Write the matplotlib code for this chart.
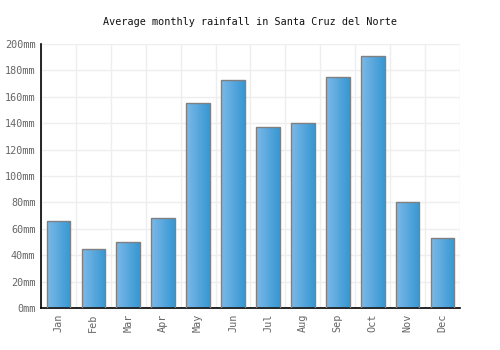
#!/usr/bin/env python3
"""Average monthly rainfall bar chart with gradient-filled bars."""

import matplotlib

matplotlib.use("Agg")
import matplotlib.pyplot as plt
import numpy as np
from matplotlib.colors import LinearSegmentedColormap

months = ["Jan", "Feb", "Mar", "Apr", "May", "Jun",
          "Jul", "Aug", "Sep", "Oct", "Nov", "Dec"]
rainfall = [66, 45, 50, 68, 155, 173, 137, 140, 175, 191, 80, 53]
y_ticks = [0, 20, 40, 60, 80, 100, 120, 140, 160, 180, 200]
y_labels = [f"{v}mm" for v in y_ticks]

plt.rcParams.update({"font.family": "DejaVu Sans Mono", "font.size": 7.3})

fig = plt.figure(figsize=(5.0, 3.5), dpi=100)
ax = fig.add_axes([0.082, 0.12, 0.838, 0.754])

x = np.arange(len(months))
bars = ax.bar(x, rainfall, width=0.68, facecolor="none",
              edgecolor="#808080", linewidth=1.0, zorder=3)

cmap = LinearSegmentedColormap.from_list("bar", ["#7bb9ea", "#3797d2"])
grad = np.linspace(0, 1, 64).reshape(1, -1)
for b in bars:
    x0, w, h = b.get_x(), b.get_width(), b.get_height()
    im = ax.imshow(grad, cmap=cmap, aspect="auto", extent=[x0, x0 + w, 0, h],
                   zorder=2, interpolation="bilinear")
    im.set_clip_path(b)

ax.set_xlim(-0.5, len(months) - 0.5)
ax.set_ylim(0, 200)
ax.set_xticks(x)
ax.set_xticklabels(months, rotation=90, color="#666666")
ax.set_yticks(y_ticks)
ax.set_yticklabels(y_labels, color="#666666")
ax.set_xticks(np.arange(len(months) + 1) - 0.5, minor=True)
ax.tick_params(axis="both", which="both", length=0, pad=4)
ax.grid(True, which="minor", axis="x", color="#eeeeee", linewidth=1.0, zorder=0)
ax.grid(True, which="major", axis="y", color="#eeeeee", linewidth=1.0, zorder=0)
ax.set_axisbelow(True)

for side in ["top", "right"]:
    ax.spines[side].set_visible(False)
ax.spines["left"].set_color("black")
ax.spines["bottom"].set_color("black")
ax.spines["left"].set_linewidth(1.2)
ax.spines["bottom"].set_linewidth(1.2)

fig.text(0.5, 0.937, "Average monthly rainfall in Santa Cruz del Norte",
         ha="center", va="center", fontsize=7.3, color="#111111")

fig.savefig("out.png", dpi=100)
